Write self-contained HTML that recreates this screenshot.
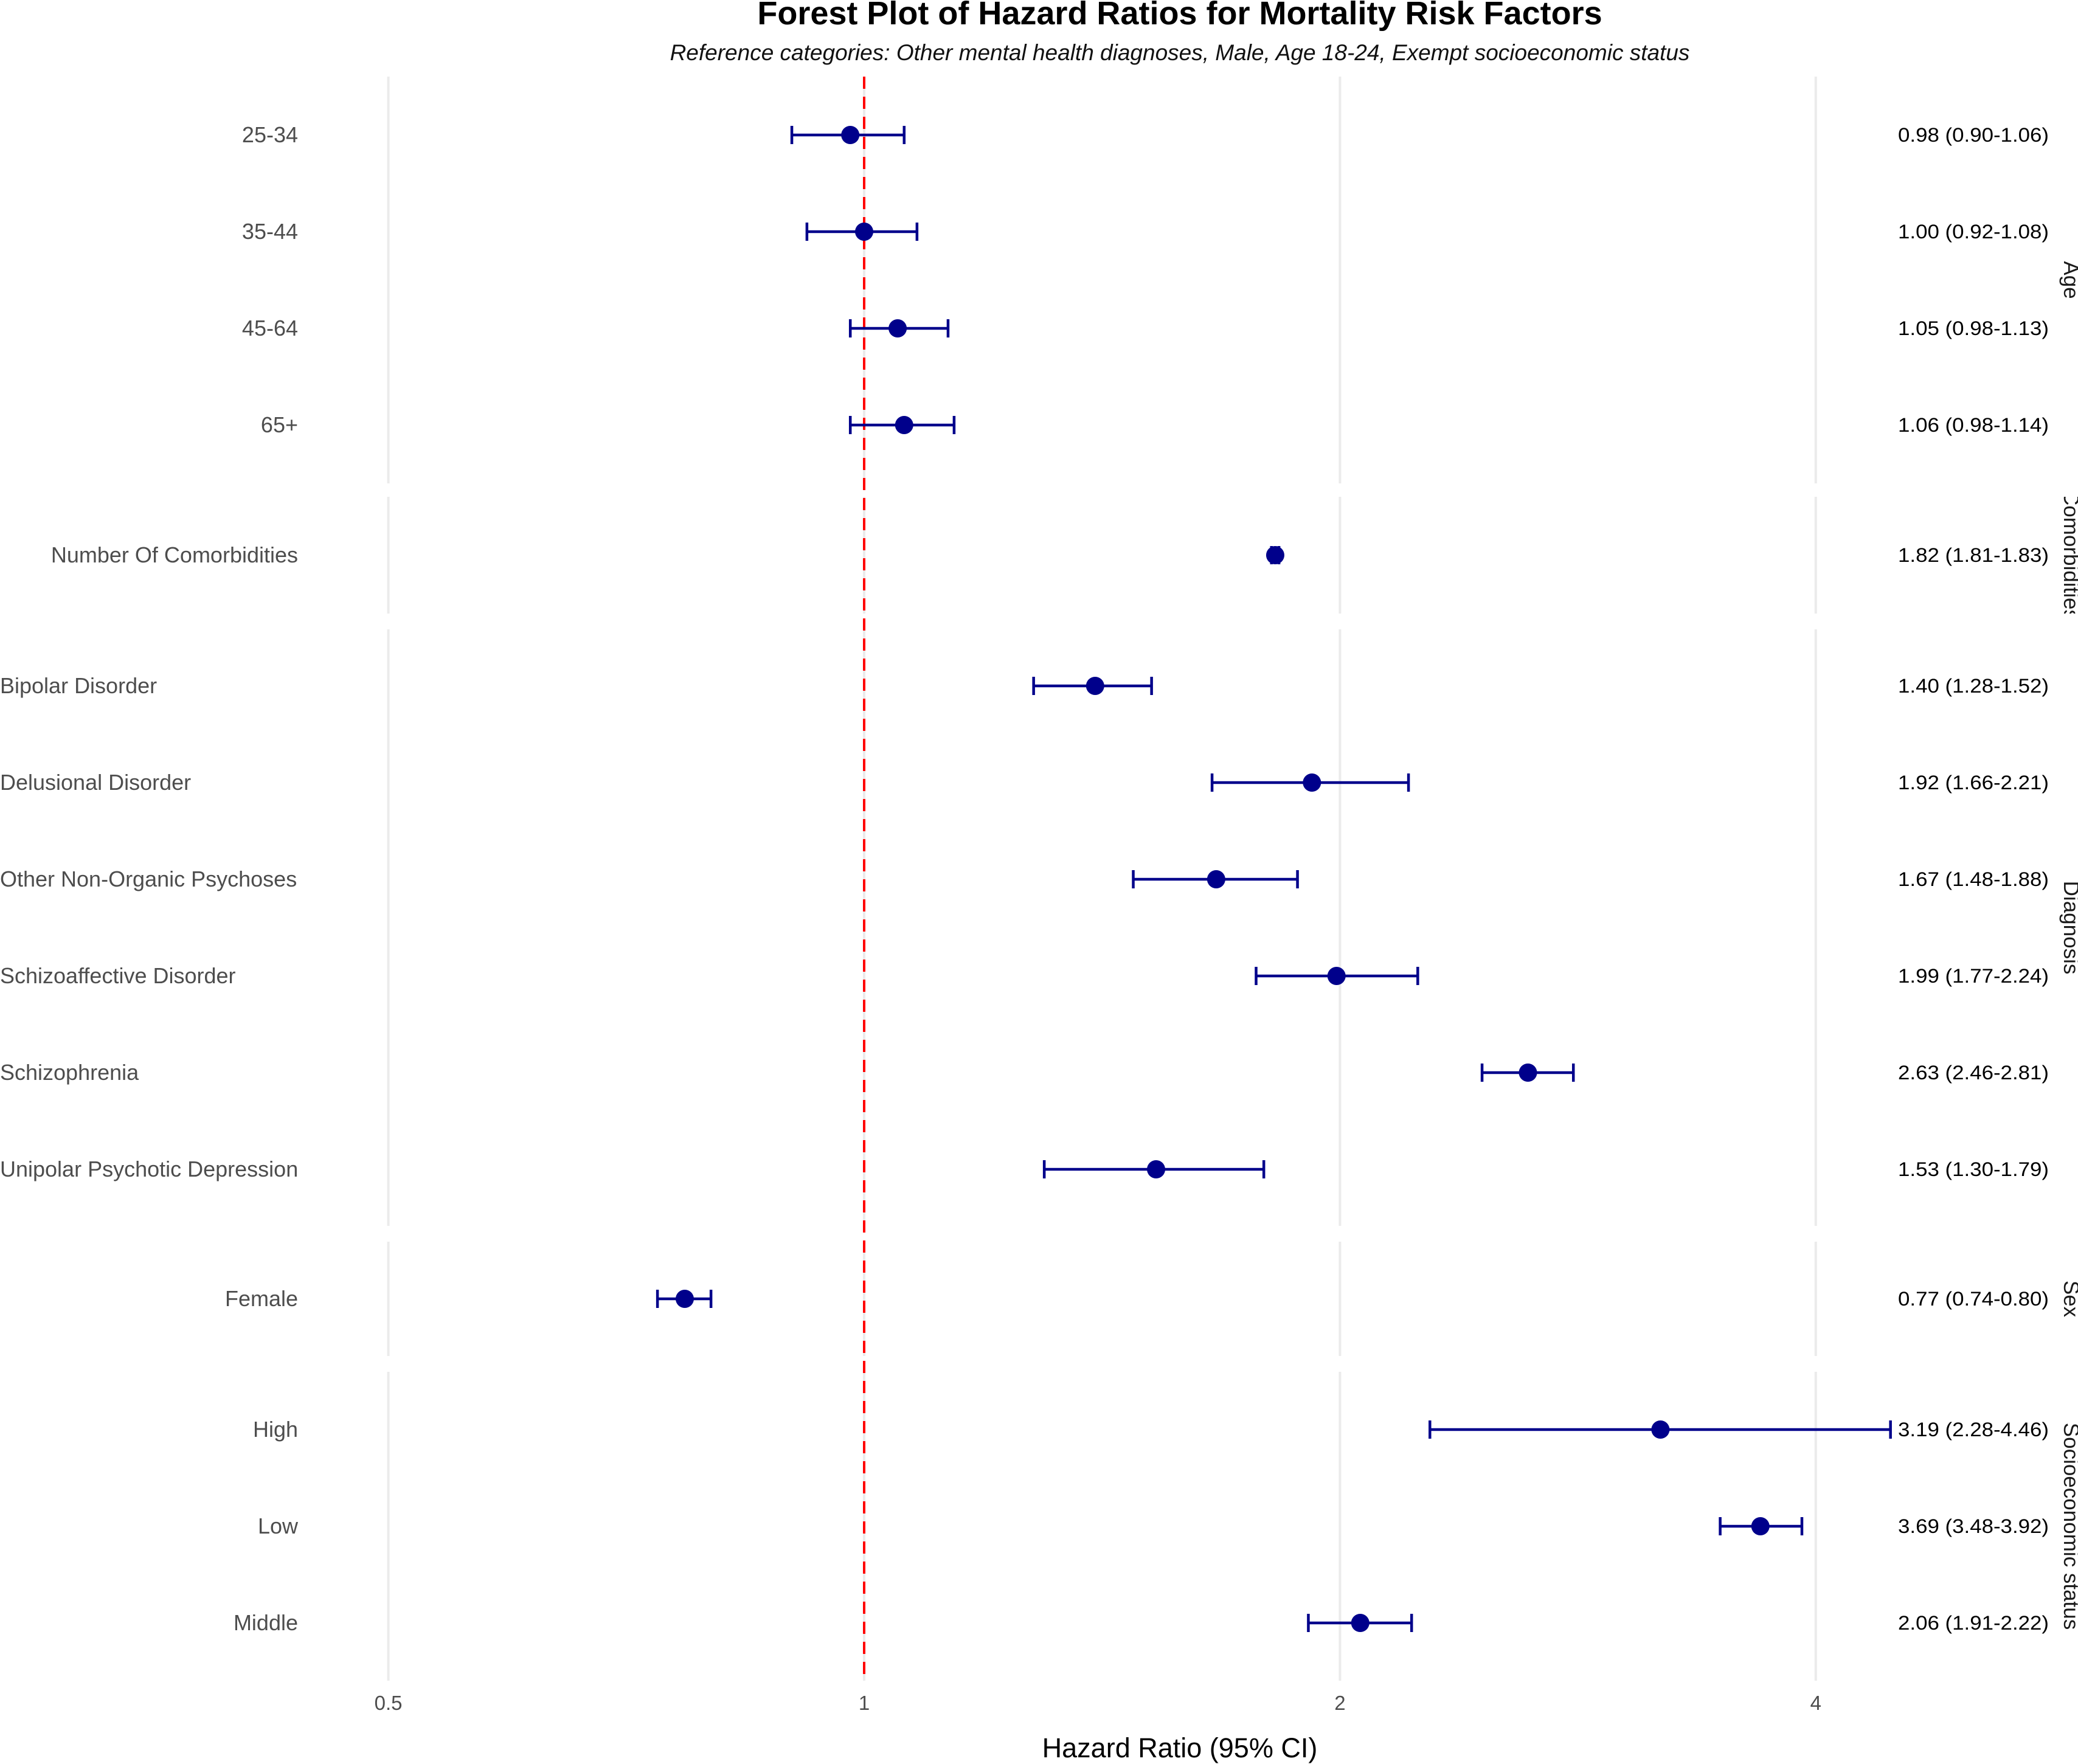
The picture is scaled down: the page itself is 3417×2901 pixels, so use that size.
<!DOCTYPE html>
<html><head><meta charset="utf-8"><style>
html,body{margin:0;padding:0;background:#fff}
svg{display:block}
text{font-family:"Liberation Sans",sans-serif}
</style></head><body>
<svg id="chart" width="3417" height="2901" viewBox="0 0 3417 2901" xmlns="http://www.w3.org/2000/svg">
<text x="1940" y="40" text-anchor="middle" font-size="54" font-weight="bold" fill="#000">Forest Plot of Hazard Ratios for Mortality Risk Factors</text>
<text x="1940" y="99" text-anchor="middle" font-size="37" font-style="italic" fill="#111">Reference categories: Other mental health diagnoses, Male, Age 18-24, Exempt socioeconomic status</text>
<g id="panels"></g>
<g id="marks"></g>
<text x="1940" y="2890" text-anchor="middle" font-size="45" fill="#000">Hazard Ratio (95% CI)</text>
</svg>
<script>
const labels = ["25-34","35-44","45-64","65+","Number Of Comorbidities","Bipolar Disorder","Delusional Disorder","Other Non-Organic Psychoses","Schizoaffective Disorder","Schizophrenia","Unipolar Psychotic Depression","Female","High","Low","Middle"];
const groups = ["Age","Age","Age","Age","Comorbidities","Diagnosis","Diagnosis","Diagnosis","Diagnosis","Diagnosis","Diagnosis","Sex","Socioeconomic status","Socioeconomic status","Socioeconomic status"];
const hr = [0.98,1.00,1.05,1.06,1.82,1.40,1.92,1.67,1.99,2.63,1.53,0.77,3.19,3.69,2.06];
const lower = [0.90,0.92,0.98,0.98,1.81,1.28,1.66,1.48,1.77,2.46,1.30,0.74,2.28,3.48,1.91];
const upper = [1.06,1.08,1.13,1.14,1.83,1.52,2.21,1.88,2.24,2.81,1.79,0.80,4.46,3.92,2.22];
const ciText = ["0.98 (0.90-1.06)","1.00 (0.92-1.08)","1.05 (0.98-1.13)","1.06 (0.98-1.14)","1.82 (1.81-1.83)","1.40 (1.28-1.52)","1.92 (1.66-2.21)","1.67 (1.48-1.88)","1.99 (1.77-2.24)","2.63 (2.46-2.81)","1.53 (1.30-1.79)","0.77 (0.74-0.80)","3.19 (2.28-4.46)","3.69 (3.48-3.92)","2.06 (1.91-2.22)"];
const xTicks = [0.5,1,2,4];
const xTickLabels = ["0.5","1","2","4"];
const panelNames = ["Age","Comorbidities","Diagnosis","Sex","Socioeconomic status"];

const NS="http://www.w3.org/2000/svg";
const X0=1421, PX=782.4;
function xs(v){return X0+PX*Math.log2(v);}
const panelBox = {"Age":[126,795],"Comorbidities":[817,1009],"Diagnosis":[1035,2016],"Sex":[2042,2230],"Socioeconomic status":[2256,2764]};
const rowStep = 159;
function mk(tag,attrs,parent){const e=document.createElementNS(NS,tag);for(const k in attrs)e.setAttribute(k,attrs[k]);parent.appendChild(e);return e;}
const P=document.getElementById('panels'), M=document.getElementById('marks');
const svg=document.getElementById('chart');
const defs=mk('defs',{},svg);

panelNames.forEach((pn,pi)=>{
  const [t,b]=panelBox[pn];
  const g=mk('g',{},P);
  
  
  xTicks.forEach(v=>{
    const l=mk('line',{x1:xs(v),x2:xs(v),y1:t,y2:b,stroke:'#ebebeb','stroke-width':4},g);
    
    
  });
  const cp=mk('clipPath',{id:'clip'+pi},defs);
  mk('rect',{x:3370,y:t,width:47,height:b-t},cp);
  const cy=(t+b)/2;
  const wrap=mk('g',{'clip-path':'url(#clip'+pi+')'},g);
  const tg=mk('g',{transform:`translate(3394,${cy}) rotate(90)`},wrap);
  const st=mk('text',{x:0,y:0,'font-size':35,fill:'#1a1a1a','text-anchor':'middle'},tg);
  st.textContent=pn;
  
  
});

const ref=mk('line',{x1:xs(1),x2:xs(1),y1:126,y2:2764,stroke:'#ff0000','stroke-width':4,'stroke-dasharray':'20 13'},P);



const rowY=[];
let prev=null, idx=0;
groups.forEach((g,i)=>{
  if(g!==prev){idx=0;prev=g;}
  const [t,b]=panelBox[g];
  const n=groups.filter(x=>x===g).length;
  const mid=(t+b)/2;
  rowY.push(mid+(idx-(n-1)/2)*rowStep);
  idx++;
});
labels.forEach((lab,i)=>{
  const y=rowY[i];
  const left = groups[i]==="Diagnosis";
  const t=mk('text',{x:left?0:490,y:y+12,'font-size':36,fill:'#4d4d4d','text-anchor':left?'start':'end'},M);
  t.textContent=lab;
  
  
  const g=mk('g',{stroke:'#00008b','stroke-width':4.5},M);
  
  
  mk('line',{x1:xs(lower[i]),x2:xs(upper[i]),y1:y,y2:y},g);
  mk('line',{x1:xs(lower[i]),x2:xs(lower[i]),y1:y-15,y2:y+15},g);
  mk('line',{x1:xs(upper[i]),x2:xs(upper[i]),y1:y-15,y2:y+15},g);
  const c=mk('circle',{cx:xs(hr[i]),cy:y,r:15,fill:'#00008b'},M);
  
  
  const ct=mk('text',{x:3369,y:y+11,'font-size':32,fill:'#000','text-anchor':'end',textLength:248,lengthAdjust:'spacingAndGlyphs'},M);
  ct.textContent=ciText[i];
  
  
});
xTicks.forEach((v,i)=>{
  const t=mk('text',{x:xs(v),y:2812,'font-size':33,fill:'#4d4d4d','text-anchor':'middle'},M);
  t.textContent=xTickLabels[i];
  
  
});
</script>
</body></html>
